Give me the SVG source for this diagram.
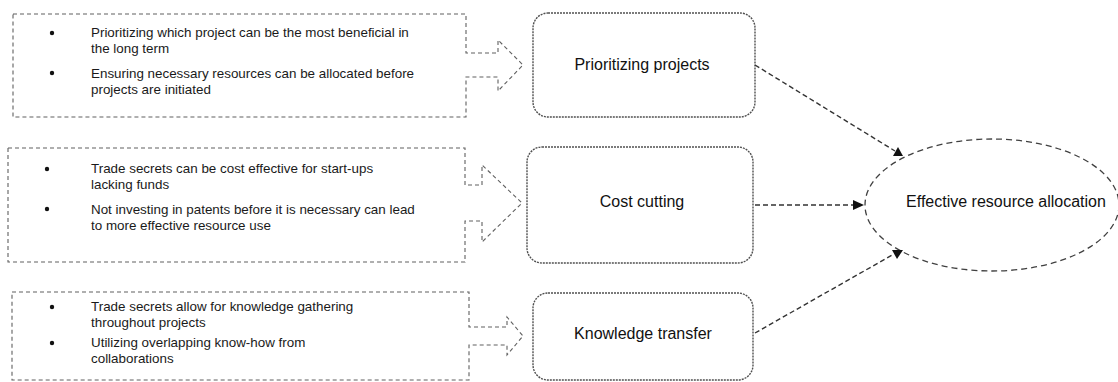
<svg xmlns="http://www.w3.org/2000/svg" width="1118" height="382" viewBox="0 0 1118 382">
  <style>
    .src { fill: none; stroke: #606060; stroke-width: 1.1; stroke-dasharray: 4 3; }
    .proc { fill: #ffffff; stroke: #505050; stroke-width: 1.4; stroke-dasharray: 2 1; }
    .goal { fill: #ffffff; stroke: #404040; stroke-width: 1.3; stroke-dasharray: 6 4; }
    .link { fill: none; stroke: #333333; stroke-width: 1.4; stroke-dasharray: 5 3; }
    .head { fill: #111111; stroke: none; }
    .dot { fill: #111111; }
    .item { font-family: "Liberation Sans", Arial, sans-serif; font-size: 13.4px; fill: #1a1a1a; }
    .label { font-family: "Liberation Sans", Arial, sans-serif; font-size: 16px; fill: #111111; text-anchor: middle; }
  </style>
  <rect width="1118" height="382" fill="#ffffff"/>

  <!-- bullet panels with block arrows -->
  <g id="reasons-prioritizing">
    <path class="src" d="M 13,14 H 466 V 53 H 498 V 40 L 523,65 L 498,91 V 77 H 466 V 117 H 13 Z"/>
    <circle class="dot" cx="52" cy="33" r="2.2"/>
    <circle class="dot" cx="52" cy="73" r="2.2"/>
    <text class="item" x="91" y="37">Prioritizing which project can be the most beneficial in</text>
    <text class="item" x="91" y="53">the long term</text>
    <text class="item" x="91" y="78">Ensuring necessary resources can be allocated before</text>
    <text class="item" x="91" y="94">projects are initiated</text>
  </g>

  <g id="reasons-cost">
    <path class="src" d="M 8,148 H 465 V 185 H 482 V 165 L 522,203 L 482,242 V 221 H 465 V 262 H 8 Z"/>
    <circle class="dot" cx="47" cy="169" r="2.2"/>
    <circle class="dot" cx="47" cy="209" r="2.2"/>
    <text class="item" x="91" y="173">Trade secrets can be cost effective for start-ups</text>
    <text class="item" x="91" y="189">lacking funds</text>
    <text class="item" x="91" y="214">Not investing in patents before it is necessary can lead</text>
    <text class="item" x="91" y="230">to more effective resource use</text>
  </g>

  <g id="reasons-knowledge">
    <path class="src" d="M 12,292 H 469 V 327 H 507 V 317 L 523,336 L 507,355 V 345 H 469 V 380 H 12 Z"/>
    <circle class="dot" cx="52" cy="307" r="2.2"/>
    <circle class="dot" cx="52" cy="343" r="2.2"/>
    <text class="item" x="91" y="311">Trade secrets allow for knowledge gathering</text>
    <text class="item" x="91" y="327">throughout projects</text>
    <text class="item" x="91" y="347">Utilizing overlapping know-how from</text>
    <text class="item" x="91" y="363">collaborations</text>
  </g>

  <!-- process nodes -->
  <g id="prioritizing-projects">
    <rect class="proc" x="533" y="13" width="222" height="104" rx="15"/>
    <text class="label" x="642" y="70">Prioritizing projects</text>
  </g>

  <g id="cost-cutting">
    <rect class="proc" x="527" y="147" width="226" height="116" rx="15"/>
    <text class="label" x="642" y="207">Cost cutting</text>
  </g>

  <g id="knowledge-transfer">
    <rect class="proc" x="533" y="293" width="220" height="87" rx="15"/>
    <text class="label" x="643" y="339">Knowledge transfer</text>
  </g>

  <!-- outcome -->
  <g id="effective-resource-allocation">
    <ellipse class="goal" cx="992" cy="205" rx="127" ry="66"/>
    <text class="label" x="1006" y="207">Effective resource allocation</text>
  </g>

  <!-- connectors -->
  <g id="connectors">
    <line class="link" x1="755" y1="65" x2="895" y2="151"/>
    <polygon class="head" points="893,156 903,156 898,147"/>
    <line class="link" x1="755" y1="205" x2="854" y2="205"/>
    <polygon class="head" points="853,200 853,210 864,205"/>
    <line class="link" x1="755" y1="333" x2="894" y2="254"/>
    <polygon class="head" points="892,250 903,250 897,259"/>
  </g>
</svg>
